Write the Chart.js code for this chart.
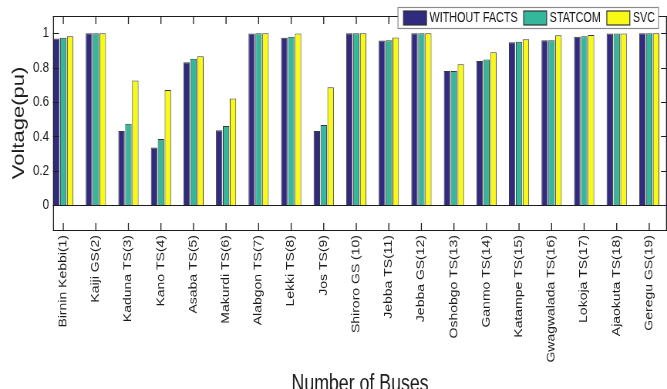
<!DOCTYPE html>
<html>
<head>
<meta charset="utf-8">
<script src="https://cdn.jsdelivr.net/npm/chart.js@4/dist/chart.umd.min.js"></script>
<style>
  html, body { margin: 0; padding: 0; background: #fff; overflow: hidden; }
  canvas { display: block; }
</style>
</head>
<body>
<!-- drawn on a wider canvas and shown narrower, so the whole figure keeps its squeezed proportions -->
<canvas id="c" width="865" height="389" style="width:667px;height:389px"></canvas>
<script>
// ---- data ----
const busNames = [
  'Birnin Kebbi(1)', 'Kaiji GS(2)', 'Kaduna TS(3)', 'Kano TS(4)', 'Asaba TS(5)',
  'Makurdi TS(6)', 'Alabgon TS(7)', 'Lekki TS(8)', 'Jos TS(9)', 'Shiroro GS (10)',
  'Jebba TS(11)', 'Jebba GS(12)', 'Oshobgo TS(13)', 'Ganmo TS(14)', 'Katampe TS(15)',
  'Gwagwalada TS(16)', 'Lokoja TS(17)', 'Ajaokuta TS(18)', 'Geregu GS(19)'
];
const withoutFacts = [0.969, 1.000, 0.432, 0.335, 0.831, 0.436, 0.998, 0.973, 0.432, 1.000,
                      0.957, 1.000, 0.781, 0.839, 0.948, 0.959, 0.979, 0.998, 1.000];
const statcom      = [0.973, 1.000, 0.473, 0.385, 0.851, 0.461, 1.000, 0.979, 0.466, 1.000,
                      0.959, 1.000, 0.781, 0.847, 0.951, 0.959, 0.982, 0.998, 1.000];
const svc          = [0.982, 1.000, 0.725, 0.670, 0.866, 0.620, 1.000, 0.998, 0.686, 1.000,
                      0.975, 1.000, 0.820, 0.889, 0.965, 0.988, 0.990, 0.998, 1.000];
const seriesNames = ['WITHOUT FACTS', 'STATCOM', 'SVC'];
const voltageTicks = [0, 0.2, 0.4, 0.6, 0.8, 1];
const voltageTickLabels = ['0', '0.2', '0.4', '0.6', '0.8', '1'];

// ---- styling ----
const SX = 865 / 667;            // canvas px per displayed px, horizontally
const INK = '#1c1c1c';
const FONT = '"Liberation Sans", Arial, Helvetica, sans-serif';
const COLORS = ['#312b80', '#35b79b', '#f9f916'];

const toPoints = vals => vals.map((v, i) => ({ x: i + 1, y: v }));

// Box around the axes with inward tick marks and the zero baseline
const axesFrame = {
  id: 'axesFrame',
  afterDatasetsDraw(chart) {
    const { ctx, chartArea: a, scales: { x, y } } = chart;
    const hTick = 6 * SX, vTick = 7.5;
    ctx.save();
    ctx.strokeStyle = INK;
    const hline = (py, x0, x1) => { ctx.beginPath(); ctx.moveTo(x0, py); ctx.lineTo(x1, py); ctx.stroke(); };
    const vline = (px, y0, y1) => { ctx.beginPath(); ctx.moveTo(px, y0); ctx.lineTo(px, y1); ctx.stroke(); };
    ctx.lineWidth = 1;
    const top = Math.round(a.top) + 0.5, bot = Math.round(a.bottom) + 0.5;
    hline(top, a.left, a.right);
    hline(bot, a.left, a.right);
    hline(Math.round(y.getPixelForValue(0)) + 0.5, a.left, a.right);
    voltageTicks.forEach(v => {
      const py = Math.round(y.getPixelForValue(v)) + 0.5;
      hline(py, a.left, a.left + hTick);
      hline(py, a.right - hTick, a.right);
    });
    ctx.lineWidth = SX;
    vline(a.left + SX / 2, a.top, a.bottom + 1);
    vline(a.right - SX / 2, a.top, a.bottom + 1);
    busNames.forEach((_, i) => {
      const px = x.getPixelForValue(i + 1);
      vline(px, top, top + vTick);
      vline(px, bot - vTick, bot);
    });
    ctx.restore();
  }
};

// Boxed legend sitting over the top-right corner of the axes
const boxedLegend = {
  id: 'boxedLegend',
  afterDraw(chart) {
    const { ctx, chartArea: a } = chart;
    ctx.save();
    ctx.font = '14px ' + FONT;
    const swW = 23 * SX, swH = 14, gapT = 3 * SX, gapItem = 6 * SX, padL = 5.5 * SX, padR = 3.5 * SX;
    const items = chart.data.datasets.map(d => ({
      label: d.label, color: d.backgroundColor, w: ctx.measureText(d.label).width
    }));
    const total = padL + padR + gapItem * (items.length - 1) +
      items.reduce((s, it) => s + swW + gapT + it.w, 0);
    const right = a.right - 8.5 * SX;
    const left = right - total;
    const top = Math.round(a.top - 9) + 0.5;
    const h = 21;
    ctx.fillStyle = '#fff';
    ctx.fillRect(left, top, total, h);
    ctx.strokeStyle = '#8a8a8a';
    ctx.lineWidth = 1.2;
    ctx.strokeRect(left, top, total, h);
    let cx = left + padL;
    items.forEach(it => {
      ctx.fillStyle = it.color;
      ctx.fillRect(cx, top + 3.5, swW, swH);
      ctx.strokeStyle = '#333';
      ctx.lineWidth = 1.2;
      ctx.strokeRect(cx, top + 3.5, swW, swH);
      cx += swW + gapT;
      ctx.fillStyle = '#141414';
      ctx.textBaseline = 'middle';
      ctx.textAlign = 'left';
      ctx.fillText(it.label, cx, top + h / 2 + 0.5);
      cx += it.w + gapItem;
    });
    ctx.restore();
  }
};

new Chart(document.getElementById('c'), {
  type: 'bar',
  data: {
    datasets: [
      { label: seriesNames[0], data: toPoints(withoutFacts), backgroundColor: COLORS[0] },
      { label: seriesNames[1], data: toPoints(statcom), backgroundColor: COLORS[1] },
      { label: seriesNames[2], data: toPoints(svc), backgroundColor: COLORS[2] }
    ]
  },
  options: {
    responsive: false,
    animation: false,
    events: [],
    layout: { padding: { top: 16, right: -2, bottom: 0, left: 0 } },
    datasets: {
      bar: {
        categoryPercentage: 0.635,
        barPercentage: 0.93,
        borderWidth: 1,
        borderColor: '#3a3a3a',
        borderSkipped: 'start'
      }
    },
    plugins: { legend: { display: false }, tooltip: { enabled: false } },
    scales: {
      x: {
        type: 'linear',
        min: 0.684,
        max: 19.546,
        offset: false,
        grid: { display: false, drawTicks: false },
        border: { display: false },
        afterBuildTicks: s => { s.ticks = busNames.map((_, i) => ({ value: i + 1 })); },
        afterFit: s => { s.height = 159; },
        ticks: {
          autoSkip: false,
          minRotation: 90,
          maxRotation: 90,
          padding: 5,
          color: INK,
          font: { family: FONT, size: 14 },
          callback: v => busNames[Math.round(v) - 1]
        },
        title: {
          display: true,
          text: 'Number of Buses',
          color: INK,
          font: { family: FONT, size: 23, lineHeight: 1 },
          padding: { top: 0, bottom: -7 }
        }
      },
      y: {
        min: -0.144,
        max: 1.1,
        grid: { display: false, drawTicks: false },
        border: { display: false },
        afterBuildTicks: s => { s.ticks = voltageTicks.map(v => ({ value: v })); },
        afterFit: s => { s.width = 53 * SX; },
        ticks: {
          padding: 5.2,
          color: INK,
          font: { family: FONT, size: 15 },
          callback: (v, i) => voltageTickLabels[i]
        },
        title: {
          display: true,
          text: 'Voltage(pu)',
          color: INK,
          font: { family: FONT, size: 22, lineHeight: 1 },
          padding: { top: 14, bottom: 0 }
        }
      }
    }
  },
  plugins: [axesFrame, boxedLegend]
});
</script>
</body>
</html>
